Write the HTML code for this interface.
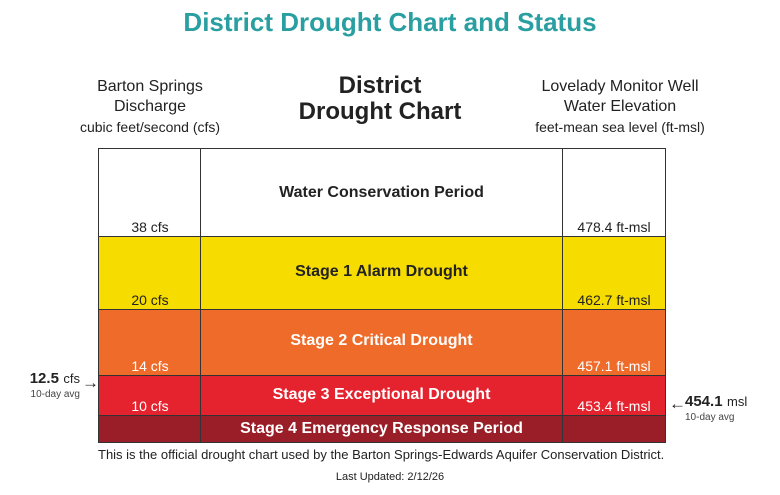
<!DOCTYPE html>
<html><head><meta charset="utf-8"><style>
body{margin:0;width:780px;height:495px;background:#fff;font-family:"Liberation Sans",sans-serif;position:relative;overflow:hidden;color:#222}
.a{position:absolute}
.c{text-align:center}
.row{position:absolute;left:98px;width:568px;box-sizing:border-box}
.cell{position:absolute;top:0;bottom:0;border-left:1.5px solid #333}
.lab{position:absolute;font-size:14px;text-align:center}
</style></head><body>
<div class="a c" style="left:0;width:780px;top:7px;font-size:26px;font-weight:bold;color:#2a9fa1">District Drought Chart and Status</div>
<div class="a c" style="left:60px;width:180px;top:77px;font-size:16px;line-height:20px">Barton Springs<br>Discharge<br><span style="font-size:14px">cubic feet/second (cfs)</span></div>
<div class="a c" style="left:230px;width:300px;top:73px;font-size:24px;font-weight:bold;line-height:26px">District<br>Drought Chart</div>
<div class="a c" style="left:525px;width:190px;top:77px;font-size:16px;line-height:20px">Lovelady Monitor Well<br>Water Elevation<br><span style="font-size:14px">feet-mean sea level (ft-msl)</span></div>
<div id="chart"></div>
<div class="a" style="left:0;width:80px;top:372px;text-align:right;line-height:14px"><span style="font-size:15px;font-weight:bold">12.5</span> <span style="font-size:13px">cfs</span><br><span style="font-size:10px;color:#444">10-day avg</span></div>
<div class="a" style="left:82px;top:373px;font-size:17px;font-weight:bold">→</div>
<div class="a" style="left:669px;top:394px;font-size:17px;font-weight:bold">←</div>
<div class="a" style="left:685px;top:395px;line-height:14px"><span style="font-size:15px;font-weight:bold">454.1</span> <span style="font-size:13px">msl</span><br><span style="font-size:10px;color:#444">10-day avg</span></div>
<div class="a" style="left:98px;top:447px;font-size:13px">This is the official drought chart used by the Barton Springs-Edwards Aquifer Conservation District.</div>
<div class="a c" style="left:0;width:780px;top:471px;font-size:11px">Last Updated: 2/12/26</div>
<script>
const stages=["Water Conservation Period","Stage 1 Alarm Drought","Stage 2 Critical Drought","Stage 3 Exceptional Drought","Stage 4 Emergency Response Period"];
const cfsLabels=["38 cfs","20 cfs","14 cfs","10 cfs",""];
const mslLabels=["478.4 ft-msl","462.7 ft-msl","457.1 ft-msl","453.4 ft-msl",""];
const rowTops=[148,236,309,375,415,443];
const fills=["#ffffff","#f7dc00","#ee6b29","#e5232f","#9a1e27"];
const textCol=["#222","#222","#fff","#fff","#fff"];
const chart=document.getElementById('chart');
for(let i=0;i<stages.length;i++){
 const r=document.createElement('div');r.className='row';
 
 
 const top=rowTops[i],h=rowTops[i+1]-top;
 r.style.top=top+'px';r.style.height=h+'px';r.style.background=fills[i];
 r.style.border='1.5px solid #333';r.style.borderBottom=i==stages.length-1?'1.5px solid #333':'none';
 r.style.color=textCol[i];
 const c1=document.createElement('div');c1.className='cell';c1.style.left='101px';c1.style.width='361px';c1.style.borderRight='1.5px solid #333';
 
 
 r.appendChild(c1);
 const s=document.createElement('div');s.className='lab';s.textContent=stages[i];
 
 
 s.style.fontWeight='bold';s.style.fontSize='16px';
 s.style.left='101px';s.style.width='363px';
 if(i==4){s.style.left='0';s.style.width='565px';}
 s.style.top=(i==0?35:i==4?4:i==3?10:(h/2-11))+'px';
 r.appendChild(s);
 if(cfsLabels[i]){
  const a=document.createElement('div');a.className='lab';a.textContent=cfsLabels[i];
  
  
  a.style.left='0';a.style.width='102px';a.style.top=(h-18)+'px';r.appendChild(a);
  const b=document.createElement('div');b.className='lab';b.textContent=mslLabels[i];
  
  
  b.style.left='464px';b.style.width='102px';b.style.top=(h-18)+'px';r.appendChild(b);
 }
 chart.appendChild(r);
}
</script>
</body></html>
